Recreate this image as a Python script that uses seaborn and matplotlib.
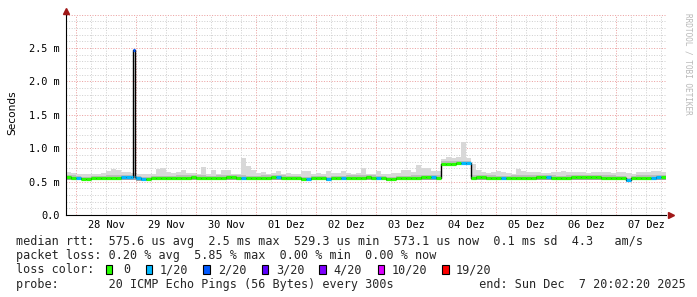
import numpy as np
import pandas as pd
import matplotlib
matplotlib.use("Agg")
import matplotlib.pyplot as plt
from matplotlib.patches import Rectangle
from matplotlib.transforms import ScaledTranslation
import seaborn as sns

# ---------------- data ----------------
start = pd.Timestamp("2025-11-27 20:02:20")
end = pd.Timestamp("2025-12-07 20:02:20")
bin_hours = 2.0

day_labels = ["28 Nov", "29 Nov", "30 Nov", "01 Dez", "02 Dez",
              "03 Dez", "04 Dez", "05 Dez", "06 Dez", "07 Dez"]

ytick_values = [0.0, 0.5, 1.0, 1.5, 2.0, 2.5]
ytick_labels = ["0.0", "0.5 m", "1.0 m", "1.5 m", "2.0 m", "2.5 m"]

median_ms = [
    0.57, 0.56, 0.55, 0.54, 0.54, 0.55, 0.55, 0.55, 0.56, 0.56,
    0.56, 0.57, 0.57, 0.57, 0.55, 0.54, 0.54, 0.55, 0.55, 0.55,
    0.55, 0.55, 0.56, 0.56, 0.56, 0.57, 0.56, 0.56, 0.55, 0.55,
    0.56, 0.56, 0.57, 0.57, 0.56, 0.56, 0.55, 0.55, 0.55, 0.56,
    0.56, 0.57, 0.57, 0.56, 0.55, 0.55, 0.55, 0.54, 0.54, 0.55,
    0.55, 0.55, 0.54, 0.55, 0.55, 0.55, 0.56, 0.56, 0.56, 0.56,
    0.57, 0.56, 0.55, 0.55, 0.54, 0.54, 0.55, 0.55, 0.55, 0.56,
    0.56, 0.57, 0.57, 0.57, 0.56, 0.77, 0.77, 0.77, 0.78, 0.78,
    0.78, 0.56, 0.57, 0.57, 0.56, 0.56, 0.55, 0.55, 0.55, 0.56,
    0.56, 0.56, 0.56, 0.56, 0.57, 0.57, 0.57, 0.56, 0.55, 0.55,
    0.56, 0.57, 0.57, 0.57, 0.57, 0.57, 0.57, 0.56, 0.56, 0.56,
    0.55, 0.55, 0.52, 0.55, 0.56, 0.56, 0.56, 0.56, 0.57, 0.57,
]

smoke_hi_ms = [
    0.64, 0.63, 0.61, 0.61, 0.61, 0.62, 0.62, 0.63, 0.66, 0.69,
    0.67, 0.64, 0.64, 0.63, 0.61, 0.61, 0.61, 0.62, 0.69, 0.70,
    0.64, 0.63, 0.64, 0.67, 0.63, 0.63, 0.62, 0.72, 0.62, 0.68,
    0.62, 0.67, 0.67, 0.62, 0.62, 0.85, 0.73, 0.67, 0.63, 0.64,
    0.62, 0.63, 0.66, 0.62, 0.63, 0.62, 0.62, 0.66, 0.66, 0.62,
    0.63, 0.62, 0.66, 0.63, 0.63, 0.66, 0.63, 0.62, 0.63, 0.70,
    0.62, 0.62, 0.66, 0.62, 0.62, 0.63, 0.63, 0.67, 0.67, 0.64,
    0.75, 0.70, 0.70, 0.66, 0.66, 0.84, 0.87, 0.86, 0.87, 1.10,
    0.86, 0.77, 0.68, 0.64, 0.63, 0.64, 0.66, 0.64, 0.63, 0.62,
    0.69, 0.66, 0.64, 0.64, 0.64, 0.63, 0.63, 0.64, 0.64, 0.66,
    0.65, 0.64, 0.64, 0.64, 0.63, 0.64, 0.65, 0.64, 0.64, 0.63,
    0.64, 0.64, 0.63, 0.62, 0.64, 0.65, 0.64, 0.66, 0.66, 0.65,
]

smoke_lo_ms = [
    0.53, 0.53, 0.52, 0.52, 0.52, 0.52, 0.52, 0.52, 0.53, 0.53,
    0.53, 0.53, 0.53, 0.53, 0.51, 0.51, 0.51, 0.52, 0.52, 0.52,
    0.52, 0.52, 0.53, 0.53, 0.53, 0.53, 0.53, 0.53, 0.52, 0.52,
    0.53, 0.53, 0.53, 0.53, 0.53, 0.53, 0.52, 0.52, 0.52, 0.53,
    0.53, 0.53, 0.53, 0.53, 0.52, 0.52, 0.52, 0.51, 0.51, 0.52,
    0.52, 0.52, 0.51, 0.52, 0.52, 0.52, 0.53, 0.53, 0.53, 0.53,
    0.53, 0.53, 0.52, 0.52, 0.51, 0.51, 0.52, 0.52, 0.52, 0.52,
    0.52, 0.53, 0.53, 0.53, 0.52, 0.74, 0.74, 0.74, 0.75, 0.75,
    0.75, 0.53, 0.53, 0.53, 0.53, 0.52, 0.52, 0.52, 0.52, 0.52,
    0.53, 0.53, 0.53, 0.53, 0.53, 0.53, 0.53, 0.52, 0.52, 0.52,
    0.53, 0.53, 0.53, 0.53, 0.53, 0.53, 0.53, 0.53, 0.52, 0.52,
    0.52, 0.52, 0.50, 0.52, 0.53, 0.53, 0.53, 0.53, 0.53, 0.53,
]

loss_pings = [
    0, 0, 1, 0, 0, 0, 0, 0, 0, 0,
    0, 1, 1, 1, 1, 1, 0, 0, 0, 0,
    0, 0, 0, 0, 0, 0, 0, 0, 0, 0,
    0, 0, 0, 0, 0, 1, 0, 0, 0, 0,
    0, 0, 1, 0, 0, 0, 0, 0, 1, 0,
    0, 0, 1, 0, 0, 1, 0, 0, 0, 0,
    0, 0, 1, 0, 0, 0, 0, 0, 0, 0,
    0, 0, 0, 1, 0, 0, 0, 0, 0, 1,
    1, 0, 0, 0, 0, 0, 0, 1, 0, 0,
    0, 0, 0, 0, 0, 0, 1, 0, 0, 0,
    0, 0, 0, 0, 0, 0, 0, 0, 0, 0,
    0, 0, 1, 0, 0, 0, 0, 1, 1, 0,
]

# short latency spike (hours after start)
spike_start_h = 26.9
spike_end_h = 27.7
spike_ms = 2.47
spike_loss = 2

loss_levels = [0, 1, 2, 3, 4, 10, 19]
loss_labels = ["0", "1/20", "2/20", "3/20", "4/20", "10/20", "19/20"]
loss_colors = ["#26ff00", "#00b8ff", "#0059ff", "#5e00ff",
               "#7e00ff", "#dd00ff", "#ff0000"]

legend_line1 = "median rtt:  575.6 us avg  2.5 ms max  529.3 us min  573.1 us now  0.1 ms sd  4.3   am/s"
legend_line2 = "packet loss: 0.20 % avg  5.85 % max  0.00 % min  0.00 % now"
legend_line4 = "probe:       20 ICMP Echo Pings (56 Bytes) every 300s            end: Sun Dec  7 20:02:20 2025"

# ---------------- figure ----------------
sns.set_style("white")
plt.rcParams["font.family"] = ["DejaVu Sans Mono", "DejaVu Sans"]

W, H = 697, 297
fig = plt.figure(figsize=(W / 100, H / 100), dpi=100, facecolor="white")

ax_left, ax_right, ax_top, ax_bottom = 66, 666, 14.6, 215
ax = fig.add_axes([ax_left / W, 1 - ax_bottom / H,
                   (ax_right - ax_left) / W, (ax_bottom - ax_top) / H])
ax.set_facecolor("white")

total_h = (end - start) / pd.Timedelta(hours=1)
ax.set_xlim(0, total_h)
ax.set_ylim(0, 3.0)

color_of = dict(zip(loss_levels, loss_colors))

# grid
minor_grid = "#d0d0d0"
major_grid = "#eba0a0"
grid_kw = dict(linewidth=0.72, zorder=0.5)
dots = (0, (1, 1.6))
for v in np.arange(1, 31) / 10.0:
    if abs(v * 2 - round(v * 2)) < 1e-9:
        ax.axhline(v, color=major_grid, linestyle=dots, **grid_kw)
    else:
        ax.axhline(v, color=minor_grid, linestyle=dots, **grid_kw)
for t in pd.date_range("2025-11-28 00:00", end, freq="6h"):
    h = (t - start) / pd.Timedelta(hours=1)
    if t.hour == 0:
        ax.axvline(h, color=major_grid, linestyle=dots, **grid_kw)
    else:
        ax.axvline(h, color=minor_grid, linestyle=dots, **grid_kw)

# smoke
hours = np.arange(len(median_ms)) * bin_hours
edges = np.append(hours, total_h)
lo = np.append(smoke_lo_ms, smoke_lo_ms[-1])
hi = np.append(smoke_hi_ms, smoke_hi_ms[-1])
med = np.append(median_ms, median_ms[-1])
ax.fill_between(edges, lo, hi, step="post", color="#d8d8d8", lw=0, zorder=1)
ax.fill_between(edges, lo, med + 0.035, step="post", color="#bdbdbd", lw=0, zorder=1.1)
ax.fill_between(edges, lo, med, step="post", color="#a4a4a4", lw=0, zorder=1.2)

# median series with the spike inserted
series = pd.DataFrame({"hours": hours, "median": median_ms, "loss": loss_pings})
k = int(spike_start_h // bin_hours)
spike = pd.DataFrame({"hours": [spike_start_h, spike_end_h],
                      "median": [spike_ms, median_ms[k]],
                      "loss": [spike_loss, loss_pings[k]]})
series = pd.concat([series, spike]).sort_values("hours").reset_index(drop=True)
tail = pd.DataFrame({"hours": [total_h], "median": [series["median"].iloc[-1]],
                     "loss": [series["loss"].iloc[-1]]})
series_ext = pd.concat([series, tail]).reset_index(drop=True)

sns.lineplot(data=series_ext, x="hours", y="median", drawstyle="steps-post",
             color="black", linewidth=1.0, estimator=None, ax=ax, zorder=2)
ax.hlines(series["median"].values, series_ext["hours"].values[:-1],
          series_ext["hours"].values[1:],
          colors=[color_of[l] for l in series["loss"]],
          linewidth=2.3, zorder=3)

# axes styling
for s in ["top", "right"]:
    ax.spines[s].set_visible(False)
for s in ["left", "bottom"]:
    ax.spines[s].set_color("black")
    ax.spines[s].set_linewidth(0.8)
    ax.spines[s].set_zorder(4)

ax.set_yticks(ytick_values)
ax.set_yticklabels(ytick_labels)
noons = [(t - start) / pd.Timedelta(hours=1)
         for t in pd.date_range("2025-11-28 12:00", periods=len(day_labels), freq="D")]
ax.set_xticks(noons)
ax.set_xticklabels(day_labels)
ax.tick_params(axis="both", length=0, labelsize=7.4, colors="black")
ax.tick_params(axis="y", pad=4.6)
ax.tick_params(axis="x", pad=3.4)
ax.set_xlabel("")
ax.set_ylabel("")

# axis arrows (left spine extended up to the arrow)
arrow_c = "#a01818"
up = ScaledTranslation(0, 4 / 100, fig.dpi_scale_trans)
right = ScaledTranslation(5 / 100, 0, fig.dpi_scale_trans)
ax.plot([0, 0], [0.98, 1], color="black", lw=0.8, transform=ax.transAxes + up,
        clip_on=False, zorder=5)
ax.plot([0], [1], marker="^", ms=4.5, color=arrow_c, transform=ax.transAxes + up,
        clip_on=False, zorder=6)
ax.plot([1], [0], marker=">", ms=4.5, color=arrow_c,
        transform=ax.transAxes + right, clip_on=False, zorder=6)


def fx(px):
    return px / W


def fy(py):
    return 1 - py / H


fig.text(fx(12), fy(113), "Seconds", rotation=90, ha="center", va="center",
         fontsize=7.6, family="DejaVu Sans", color="black")
fig.text(fx(688), fy(64), "RRDTOOL / TOBI OETIKER", rotation=270,
         ha="center", va="center", fontsize=5.6, color="#b8b8b8",
         family="DejaVu Sans Mono")

# legend
lfs = 8.5
fig.text(fx(16), fy(245.0), legend_line1, fontsize=lfs, va="baseline", ha="left")
fig.text(fx(16), fy(259.2), legend_line2, fontsize=lfs, va="baseline", ha="left")
fig.text(fx(16), fy(273.4), "loss color:", fontsize=lfs, va="baseline", ha="left")
fig.text(fx(16), fy(287.6), legend_line4, fontsize=lfs, va="baseline", ha="left")

box_x = [106, 146, 203.3, 261.7, 319.3, 377.8, 442.2]
text_x = [123.3, 160, 218.3, 276, 333.3, 392, 455.6]
for bx, tx, lab, col in zip(box_x, text_x, loss_labels, loss_colors):
    fig.add_artist(Rectangle((fx(bx), fy(274.0)), 6.3 / W, 8.7 / H,
                             transform=fig.transFigure, facecolor=col,
                             edgecolor="black", linewidth=0.8))
    fig.text(fx(tx), fy(273.4), lab, fontsize=lfs, va="baseline", ha="left")

fig.savefig("out.png", dpi=100, facecolor="white")
